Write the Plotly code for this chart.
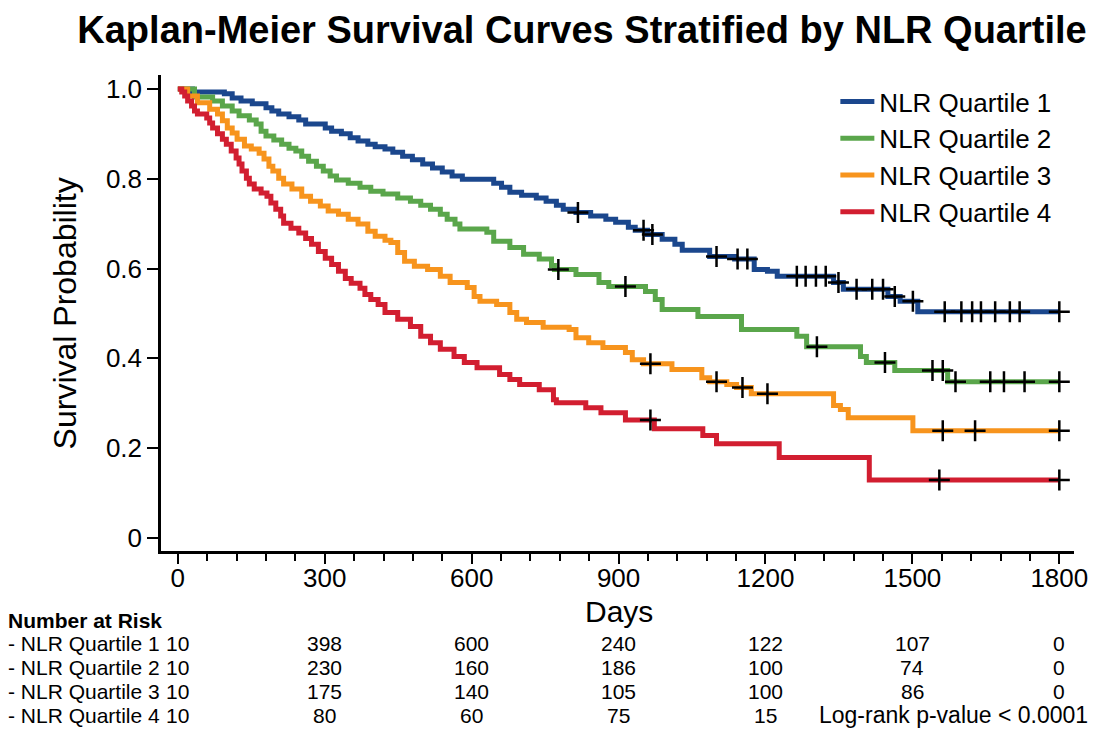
import numpy as np
import plotly.graph_objects as go

# ---------------- data ----------------
group_names = ["NLR Quartile 1", "NLR Quartile 2", "NLR Quartile 3", "NLR Quartile 4"]

q1_days = [0, 30, 95, 111, 129, 152, 180, 192, 206, 227, 247, 261, 301, 314, 334, 352, 368, 388, 403, 423,
           439, 459, 479, 500, 520, 540, 560, 581, 645, 661, 678, 702, 732, 752, 773, 787, 813, 843, 874, 894,
           920, 934, 959, 989, 1015, 1030, 1086, 1137, 1177, 1204, 1224, 1339, 1359, 1450, 1475, 1511]
q1_surv = [1.000, 0.993, 0.989, 0.980, 0.973, 0.967, 0.958, 0.951, 0.944, 0.938, 0.931, 0.922, 0.913, 0.906,
           0.900, 0.891, 0.884, 0.877, 0.871, 0.866, 0.859, 0.850, 0.842, 0.833, 0.824, 0.815, 0.806, 0.799,
           0.790, 0.781, 0.770, 0.763, 0.757, 0.750, 0.741, 0.732, 0.725, 0.717, 0.710, 0.703, 0.692, 0.685,
           0.676, 0.665, 0.654, 0.641, 0.627, 0.621, 0.598, 0.594, 0.583, 0.569, 0.554, 0.538, 0.527, 0.504]
q1_censor = [817, 951, 969, 1100, 1143, 1163, 1264, 1282, 1303, 1323, 1349, 1386, 1418, 1440, 1464, 1501,
             1566, 1600, 1622, 1640, 1669, 1699, 1719, 1800]

q2_days = [0, 34, 71, 91, 111, 125, 146, 160, 170, 180, 196, 212, 227, 241, 253, 267, 283, 297, 311, 324,
           348, 372, 394, 419, 449, 475, 496, 516, 536, 550, 566, 576, 631, 645, 678, 706, 738, 763, 769, 813,
           860, 880, 955, 975, 989, 1062, 1151, 1264, 1284, 1394, 1406, 1464, 1572]
q2_surv = [1.000, 0.982, 0.973, 0.962, 0.951, 0.940, 0.931, 0.922, 0.906, 0.895, 0.886, 0.877, 0.868, 0.862,
           0.850, 0.839, 0.828, 0.817, 0.806, 0.797, 0.790, 0.781, 0.772, 0.766, 0.757, 0.750, 0.741, 0.732,
           0.721, 0.710, 0.699, 0.688, 0.681, 0.661, 0.647, 0.632, 0.621, 0.607, 0.598, 0.587, 0.569, 0.560,
           0.549, 0.531, 0.509, 0.493, 0.464, 0.449, 0.426, 0.404, 0.391, 0.373, 0.348]
q2_censor = [777, 914, 1305, 1444, 1541, 1562, 1588, 1659, 1687, 1729, 1800]

q3_days = [0, 20, 40, 65, 81, 91, 101, 111, 121, 136, 150, 166, 176, 186, 194, 206, 216, 233, 253, 271,
           291, 307, 328, 348, 368, 388, 403, 423, 435, 449, 463, 483, 510, 536, 556, 591, 605, 617, 651, 678,
           692, 712, 746, 799, 813, 839, 868, 914, 928, 951, 1009, 1070, 1086, 1121, 1141, 1171, 1339, 1353,
           1369, 1501]
q3_surv = [1.000, 0.984, 0.969, 0.955, 0.944, 0.929, 0.913, 0.902, 0.888, 0.873, 0.866, 0.857, 0.844, 0.828,
           0.817, 0.801, 0.788, 0.777, 0.761, 0.750, 0.739, 0.728, 0.721, 0.710, 0.699, 0.683, 0.672, 0.663,
           0.658, 0.636, 0.616, 0.605, 0.598, 0.583, 0.569, 0.558, 0.538, 0.527, 0.520, 0.502, 0.487, 0.480,
           0.469, 0.464, 0.446, 0.435, 0.424, 0.413, 0.397, 0.388, 0.375, 0.357, 0.348, 0.342, 0.335, 0.321,
           0.295, 0.286, 0.268, 0.239]
q3_censor = [965, 1100, 1153, 1204, 1562, 1628, 1800]

q4_days = [0, 8, 14, 20, 28, 34, 40, 59, 65, 71, 81, 91, 99, 109, 119, 125, 131, 140, 146, 156, 170, 182,
           190, 200, 210, 216, 231, 247, 261, 273, 287, 301, 314, 328, 342, 354, 372, 382, 394, 409, 423, 449,
           475, 496, 516, 536, 564, 585, 611, 657, 678, 698, 738, 767, 773, 833, 864, 914, 973, 1072, 1100,
           1228, 1412]
q4_surv = [1.000, 0.993, 0.984, 0.973, 0.962, 0.951, 0.944, 0.935, 0.924, 0.913, 0.900, 0.888, 0.877, 0.862,
           0.846, 0.833, 0.817, 0.801, 0.788, 0.777, 0.768, 0.761, 0.746, 0.732, 0.717, 0.701, 0.690, 0.679,
           0.667, 0.654, 0.638, 0.623, 0.609, 0.594, 0.578, 0.567, 0.556, 0.542, 0.531, 0.520, 0.502, 0.487,
           0.471, 0.449, 0.435, 0.420, 0.404, 0.391, 0.379, 0.364, 0.353, 0.342, 0.330, 0.308, 0.301, 0.290,
           0.279, 0.263, 0.243, 0.228, 0.210, 0.179, 0.129]
q4_censor = [965, 1555, 1800]

end_day = 1800
x_ticks = [0, 300, 600, 900, 1200, 1500, 1800]
y_ticks = [0, 0.2, 0.4, 0.6, 0.8, 1.0]
y_tick_labels = ["0", "0.2", "0.4", "0.6", "0.8", "1.0"]

risk_days = [0, 300, 600, 900, 1200, 1500, 1800]
q1_risk = [10, 398, 600, 240, 122, 107, 0]
q2_risk = [10, 230, 160, 186, 100, 74, 0]
q3_risk = [10, 175, 140, 105, 100, 86, 0]
q4_risk = [10, 80, 60, 75, 15]
p_value_text = "Log-rank p-value < 0.0001"

# ---------------- styling ----------------
FONT = "Liberation Sans, Arial, Helvetica, sans-serif"
colors = ["#1b478d", "#5aa64b", "#f7941d", "#d21e30"]

W, H = 1100, 737
L, R, T, B = 161, 17, 75, 186
PW, PH = W - L - R, H - T - B


def px_x(px):
    return (px - L) / PW


def px_y(py):
    return (H - B - py) / PH


groups = [
    (q1_days, q1_surv, q1_censor, q1_risk),
    (q2_days, q2_surv, q2_censor, q2_risk),
    (q3_days, q3_surv, q3_censor, q3_risk),
    (q4_days, q4_surv, q4_censor, q4_risk),
]

fig = go.Figure()

for (days, surv, cens, _), name, col in zip(groups, group_names, colors):
    fig.add_trace(go.Scatter(
        x=list(days) + [end_day], y=list(surv) + [surv[-1]],
        mode="lines", name=name,
        line=dict(shape="hv", width=5, color=col),
    ))

for (days, surv, cens, _), name, col in zip(groups, group_names, colors):
    d = np.array(days)
    s = np.array(surv)
    idx = np.searchsorted(d, np.array(cens), side="right") - 1
    fig.add_trace(go.Scatter(
        x=cens, y=s[idx], mode="markers", showlegend=False, cliponaxis=False,
        marker=dict(symbol="cross-thin", size=15, color="black",
                    line=dict(width=2.5, color="black")),
        hoverinfo="skip",
    ))

annotations = []
# axis titles
annotations.append(dict(text="Days", x=900, xref="x", y=px_y(611), yref="paper",
                        showarrow=False, font=dict(size=30, color="black", family=FONT),
                        xanchor="center", yanchor="middle"))
annotations.append(dict(text="Survival Probability", x=px_x(65), xref="paper", y=0.5, yref="y",
                        textangle=-90, showarrow=False,
                        font=dict(size=32, color="black", family=FONT),
                        xanchor="center", yanchor="middle"))

# number at risk table
annotations.append(dict(text="<b>Number at Risk</b>", x=px_x(4), xref="paper", y=px_y(620), yref="paper",
                        showarrow=False, font=dict(size=21, color="black", family=FONT),
                        xanchor="left", yanchor="middle"))
row_y = [643, 667, 691, 715]
for (_, _, _, risk), name, ry in zip(groups, group_names, row_y):
    annotations.append(dict(text="- " + name, x=px_x(4), xref="paper", y=px_y(ry), yref="paper",
                            showarrow=False, font=dict(size=21, color="black", family=FONT),
                            xanchor="left", yanchor="middle"))
    for d, v in zip(risk_days, risk):
        annotations.append(dict(text=str(v), x=d, xref="x", y=px_y(ry), yref="paper",
                                showarrow=False, font=dict(size=21, color="black", family=FONT),
                                xanchor="center", yanchor="middle"))
annotations.append(dict(text=p_value_text, x=px_x(1099), xref="paper", y=px_y(row_y[3]), yref="paper",
                        showarrow=False, font=dict(size=23, color="black", family=FONT),
                        xanchor="right", yanchor="middle"))

fig.update_layout(
    width=W, height=H,
    margin=dict(l=L, r=R, t=T, b=B, pad=0),
    paper_bgcolor="white", plot_bgcolor="white",
    font=dict(family=FONT, color="black"),
    title=dict(text="Kaplan-Meier Survival Curves Stratified by NLR Quartile",
               x=582 / W, xref="container", xanchor="center",
               y=1 - 30 / H, yref="container", yanchor="middle",
               font=dict(size=38, color="black", family=FONT, weight="bold")),
    showlegend=True,
    legend=dict(x=px_x(842), y=px_y(78), xref="paper", yref="paper",
                xanchor="left", yanchor="top", bgcolor="rgba(0,0,0,0)",
                font=dict(size=26, color="black", family=FONT),
                itemwidth=34, tracegroupgap=0),
    annotations=annotations,
)

fig.update_xaxes(
    range=[-34.4, 1830], tickvals=x_ticks, ticktext=[str(v) for v in x_ticks],
    ticks="outside", ticklen=10, tickwidth=2, tickcolor="black",
    showline=True, linewidth=2.5, linecolor="black",
    showgrid=False, zeroline=False, ticklabelstandoff=-8,
    tickfont=dict(size=26, color="black", family=FONT),
    minor=dict(dtick=60, tick0=0, ticks="outside", ticklen=7, tickwidth=2, tickcolor="black", showgrid=False),
)
fig.update_yaxes(
    range=[-0.029, 1.031], tickvals=y_ticks, ticktext=y_tick_labels,
    ticks="outside", ticklen=11, tickwidth=2, tickcolor="black",
    showline=True, linewidth=2.5, linecolor="black",
    showgrid=False, zeroline=False,
    tickfont=dict(size=26, color="black", family=FONT),
)

fig.write_html("out.html")
